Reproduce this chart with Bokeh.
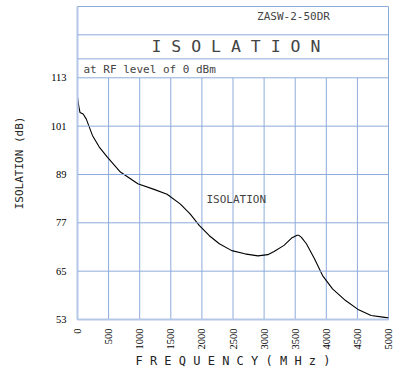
import math
from bokeh.plotting import figure
from bokeh.models import Range1d, FixedTicker, Span, Label
from bokeh.embed import file_html
from bokeh.resources import INLINE

# ---- data ----
freq_mhz = [0, 20, 40, 90, 140, 240, 350, 480, 690, 970, 1230, 1440, 1650, 1810,
            1960, 2120, 2280, 2480, 2690, 2900, 3060, 3160, 3320, 3450, 3530,
            3560, 3600, 3680, 3810, 3940, 4100, 4310, 4520, 4720, 4910, 5000]
isolation_db = [108.3, 106.0, 104.4, 104.0, 102.8, 98.7, 95.8, 93.3, 89.6, 86.7,
                85.3, 84.1, 81.7, 79.2, 76.3, 73.8, 71.8, 70.1, 69.3, 68.8, 69.1,
                69.9, 71.4, 73.3, 73.9, 73.9, 73.4, 71.8, 68.1, 63.9, 60.6, 57.7,
                55.4, 54.0, 53.6, 53.4]
x_ticks = [0, 500, 1000, 1500, 2000, 2500, 3000, 3500, 4000, 4500, 5000]
y_ticks = [53, 65, 77, 89, 101, 113]
model_name = "ZASW-2-50DR"
chart_title = "I S O L A T I O N"
subtitle = "at RF level of 0 dBm"
curve_label = "ISOLATION"
x_title = "F R E Q U E N C Y ( M H z )"
y_title = "ISOLATION (dB)"

GRID = "#8eaadb"
MONO = "DejaVu Sans Mono"
NARROW = "Liberation Sans Narrow"

y_top = 130.7  # header area above the data region
p = figure(width=393, height=373, output_backend="svg", toolbar_location=None,
           x_range=Range1d(0, 5000), y_range=Range1d(53, y_top),
           min_border_left=77, min_border_right=5, min_border_top=6,
           min_border_bottom=54)
p.background_fill_color = "white"
p.border_fill_color = "white"
p.outline_line_color = GRID
p.outline_line_width = 1
p.xgrid.visible = False
p.ygrid.visible = False

for ax in (p.xaxis[0], p.yaxis[0]):
    ax.major_tick_line_color = None
    ax.minor_tick_line_color = None
    ax.axis_line_color = "#b4c7e7"
    ax.axis_line_width = 2
    ax.major_label_text_font = NARROW
    ax.major_label_text_font_size = "10.5px"
    ax.major_label_text_color = "black"
    ax.axis_label_text_font = MONO
    ax.axis_label_text_font_style = "normal"
    ax.axis_label_text_color = "#222222"
p.xaxis[0].ticker = FixedTicker(ticks=x_ticks)
p.yaxis[0].ticker = FixedTicker(ticks=y_ticks)
p.xaxis[0].major_label_orientation = math.pi / 2
p.xaxis[0].major_label_standoff = 3
p.yaxis[0].major_label_standoff = 5
p.xaxis[0].axis_label = x_title
p.xaxis[0].axis_label_text_font_size = "12px"
p.xaxis[0].axis_label_standoff = 1
p.yaxis[0].axis_label = y_title
p.yaxis[0].axis_label_text_font_size = "11px"
p.yaxis[0].axis_label_standoff = 22

# horizontal grid lines across the full width
for yv in y_ticks[1:]:
    p.add_layout(Span(location=yv, dimension="width", line_color=GRID, line_width=1))
# vertical grid lines only within the data region
vx = x_ticks[1:]
p.segment(x0=vx, y0=[y_ticks[0]] * len(vx), x1=vx, y1=[y_ticks[-1]] * len(vx),
          line_color=GRID, line_width=1)
# header dividers
for yv in (117.7, 123.67):
    p.add_layout(Span(location=yv, dimension="width", line_color=GRID, line_width=1))

# curve
p.line(freq_mhz, isolation_db, line_color="black", line_width=1.1)

# texts inside the frame
p.add_layout(Label(x=3473, y=128.2, text=model_name, text_font=MONO,
                   text_font_size="11px", text_align="center", text_baseline="middle"))
p.add_layout(Label(x=2547, y=120.8, text=chart_title, text_font=MONO,
                   text_font_size="16.5px", text_align="center", text_baseline="middle"))
p.add_layout(Label(x=95, y=115.1, text=subtitle, text_font=MONO,
                   text_font_size="11px", text_align="left", text_baseline="middle"))
p.add_layout(Label(x=2073, y=82.8, text=curve_label, text_font=MONO,
                   text_font_size="11px", text_align="left", text_baseline="middle"))

open("out.html", "w").write(file_html(p, INLINE))
